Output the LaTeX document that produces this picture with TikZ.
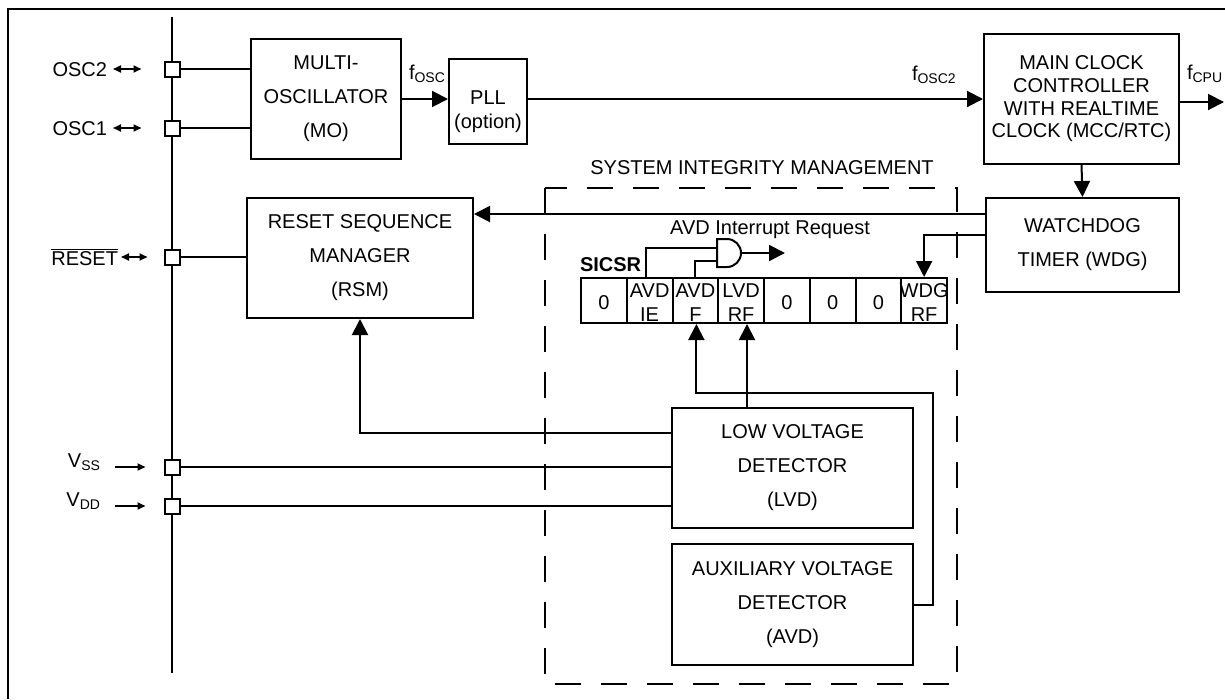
\documentclass[tikz,border=0pt]{standalone}
\usepackage{fontspec}
\setmainfont{Liberation Sans}
\usetikzlibrary{arrows.meta,calc}
\newcommand\mysub[1]{\raisebox{-3.5pt}{\fontsize{14}{14}\selectfont #1}}
\begin{document}
\begin{tikzpicture}[x=1pt,y=-1pt,line width=2pt,
  >={Triangle[length=16pt,width=16pt]},
  txt/.style={inner sep=0pt,font=\fontsize{20}{24}\selectfont},
  box/.style={draw,line width=2pt,align=center,inner sep=0pt,font=\fontsize{20}{34}\selectfont},
  pin/.style={draw,fill=white,minimum size=15pt,inner sep=0pt,line width=2pt},
  cell/.style={draw,minimum width=45.75pt,minimum height=45pt,inner sep=0pt,line width=2pt},
  small/.style={line width=1.8pt},
  dbl/.style={small,{Triangle[length=8pt,width=7pt]}-{Triangle[length=8pt,width=7pt]}},
  sgl/.style={small,-{Triangle[length=8pt,width=7pt]}},
  sim/.style={dash pattern=on 26pt off 20pt}]
\useasboundingbox (0,0) rectangle (1225,699);
% outer frame
\draw (8,699) -- (8,9) -- (1225,9);
% bus
\coordinate (bustop) at (172,17);
\coordinate (busbot) at (172,673);
\draw (bustop) -- (busbot);
% helper coordinates
\coordinate (y214) at (0,214);
\coordinate (y235) at (0,235);
\coordinate (y393) at (0,393);
\coordinate (y433) at (0,433);
% system integrity dashed frame
\draw[sim] (545,188) rectangle (957,684);
\node[txt,anchor=base] (simlab) at (762,174) {SYSTEM INTEGRITY MANAGEMENT};
% boxes
\node[box,minimum width=150pt,minimum height=120pt] (mo) at (326,99) {MULTI-\\OSCILLATOR\\(MO)};
\node[box,minimum width=78pt,minimum height=85pt] (pll) at (488,101.5) {};
\node[txt,align=center] (pllt) at (488,112) {PLL\\(option)};
\node[box,minimum width=195pt,minimum height=130pt,font=\fontsize{20}{22.7}\selectfont] (mcc) at (1081.5,99) {MAIN CLOCK\\CONTROLLER\\WITH REALTIME\\CLOCK (MCC/RTC)};
\node[box,minimum width=193pt,minimum height=94pt] (wdg) at (1082.5,245) {WATCHDOG\\TIMER (WDG)};
\node[box,minimum width=226pt,minimum height=120pt] (rsm) at (360,258) {RESET SEQUENCE\\MANAGER\\(RSM)};
\node[box,minimum width=241pt,minimum height=120pt] (lvd) at (792.5,468) {LOW VOLTAGE\\DETECTOR\\(LVD)};
\node[box,minimum width=241pt,minimum height=121pt] (avd) at (792.5,604.5) {AUXILIARY VOLTAGE\\DETECTOR\\(AVD)};
% pins
\node[pin] (p1) at (172,69) {};
\node[pin] (p2) at (172,128) {};
\node[pin] (p3) at (172,257) {};
\node[pin] (p4) at (172,467) {};
\node[pin] (p5) at (172,506) {};
% pin labels
\node[txt,anchor=base east] (l1) at (108,76) {OSC2};
\node[txt,anchor=base east] (l2) at (108,135) {OSC1};
\node[txt,anchor=base east] (l3) at (119,265) {$\overline{\mbox{RESET}}$};
\node[txt,anchor=base east] (l4) at (101,467) {V\mysub{SS}};
\node[txt,anchor=base east] (l5) at (101,506) {V\mysub{DD}};
\draw[dbl] ([xshift=5pt]l1.east |- p1) -- ([xshift=-22pt]p1.west);
\draw[dbl] ([xshift=5pt]l2.east |- p2) -- ([xshift=-22pt]p2.west);
\draw[dbl] ([xshift=2pt]l3.east |- p3) -- ([xshift=-16pt]p3.west);
\draw[sgl] ([xshift=14pt]l4.east |- p4) -- ([xshift=-18pt]p4.west);
\draw[sgl] ([xshift=14pt]l5.east |- p5) -- ([xshift=-18pt]p5.west);
% pin connections
\draw (p1.east) -- (p1.east -| mo.west);
\draw (p2.east) -- (p2.east -| mo.west);
\draw (p3.east) -- (p3.east -| rsm.west);
\draw (p4.east) -- (p4.east -| lvd.west);
\draw (p5.east) -- (p5.east -| lvd.west);
% clock path
\draw[->] (mo.east) -- (mo.east -| pll.west);
\node[txt,anchor=base west] (fosc) at (408,79) {f\mysub{OSC}};
\draw[->] (pll.east |- mcc.west) -- (mcc.west);
\node[txt,anchor=base west] (fosc2) at (911,80) {f\mysub{OSC2}};
\coordinate (cpuout) at (1224,102);
\draw[->] (mcc.east |- cpuout) -- (cpuout);
\node[txt,anchor=base west] (fcpu) at (1186,79) {f\mysub{CPU}};
\draw[->] (mcc.south) -- (wdg.north);
% watchdog to reset manager
\draw[->] (wdg.west |- y214) -- (rsm.east |- y214);
% register
\foreach \i/\t in {1/0,2/{AVD\\IE},3/{AVD\\F},4/{LVD\\RF},5/0,6/0,7/0,8/{WDG\\RF}}{
  \node[cell] (c\i) at ({581+45.75*(\i-0.5)},300.5) {};
  \node[txt,align=center] (t\i) at ({581+45.75*(\i-0.5)},302.5) {\t};
}
\node[txt,anchor=base west,font=\fontsize{20}{24}\selectfont\bfseries] (sicsr) at (579,271) {SICSR};
\draw[->] (wdg.west |- y235) -| (c8.north);
% AND gate
\coordinate (gtl) at (717,239);
\coordinate (gbl) at (717,267);
\draw (727,239) arc[start angle=90,end angle=-90,radius=14pt] -- (gbl) -- (gtl) -- cycle;
\coordinate (gin1) at (717,248);
\coordinate (gin2) at (717,261);
\coordinate (gout) at (741,253);
\coordinate (irq) at (785,253);
\draw ([xshift=-4pt]c2.north) |- (gin1);
\draw (c3.north) |- (gin2);
\draw[->] (gout) -- (irq);
\node[txt,anchor=base] (irqlab) at (770,234) {AVD Interrupt Request};
% LVD and AVD flags
\coordinate (lvdtap) at (747,408);
\draw[->] (lvdtap) -- (lvdtap |- c4.south);
\coordinate (avdx) at (933,605);
\draw[->] (avd.east |- avdx) -- (avdx) -- (avdx |- y393) -| ([xshift=1pt]c3.south);
% LVD reset to RSM
\draw[->] (lvd.west |- y433) -| (rsm.south);
\end{tikzpicture}
\end{document}
